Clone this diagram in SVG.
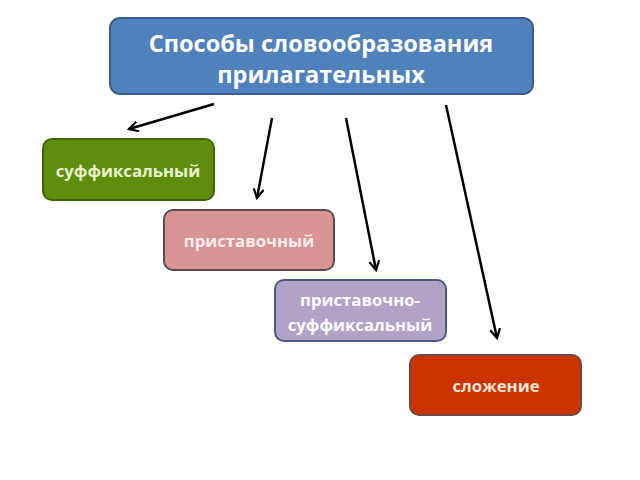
<svg xmlns="http://www.w3.org/2000/svg" width="640" height="480" viewBox="0 0 640 480">
<defs>
<marker id="ah" viewBox="0 0 12 12" refX="10" refY="6" markerWidth="12" markerHeight="12" markerUnits="userSpaceOnUse" orient="auto">
<path d="M1,1 L10,6 L1,11" fill="none" stroke="#000" stroke-width="2.2"/>
</marker>
</defs>
<style>
.box{stroke-width:2}
.t{font-family:"Open Sans","Liberation Sans",sans-serif;font-weight:bold;text-anchor:middle}
.c{stroke:#000;stroke-width:2.5;fill:none;marker-end:url(#ah)}
</style>
<rect width="640" height="480" fill="#fff"/>
<g id="title">
<rect class="box" x="110" y="18" width="423" height="76" rx="10" fill="#4f81bd" stroke="#385d8a"/>
<text class="t" x="321" y="52" font-size="23.5" fill="#fff">Способы словообразования</text>
<text class="t" x="321" y="83" font-size="23.5" fill="#fff">прилагательных</text>
</g>
<g id="suffix">
<rect class="box" x="43" y="139" width="171" height="61" rx="9" fill="#5e8e0c" stroke="#41640a"/>
<text class="t" x="128" y="177" font-size="16.7" fill="#eaf2d0">суффиксальный</text>
</g>
<g id="prefix">
<rect class="box" x="164" y="210" width="170" height="60" rx="9" fill="#d99594" stroke="#5a4a58"/>
<text class="t" x="249" y="247" font-size="16.7" fill="#fbeeee">приставочный</text>
</g>
<g id="prefsuffix">
<rect class="box" x="275" y="280" width="171" height="61" rx="9" fill="#b2a2c7" stroke="#4f5a82"/>
<text class="t" x="360" y="306" font-size="16.7" fill="#fff">приставочно-</text>
<text class="t" x="360" y="331" font-size="16.7" fill="#fff">суффиксальный</text>
</g>
<g id="compound">
<rect class="box" x="410" y="355" width="171" height="60" rx="9" fill="#cc3300" stroke="#6e4a40"/>
<text class="t" x="496" y="392" font-size="16.7" fill="#fbe6d8">сложение</text>
</g>
<g id="connectors">
<line class="c" x1="214" y1="104" x2="129" y2="129"/>
<line class="c" x1="272" y1="118" x2="257" y2="198"/>
<line class="c" x1="346" y1="118" x2="376" y2="270"/>
<line class="c" x1="446" y1="105" x2="497" y2="338"/>
</g>
</svg>
